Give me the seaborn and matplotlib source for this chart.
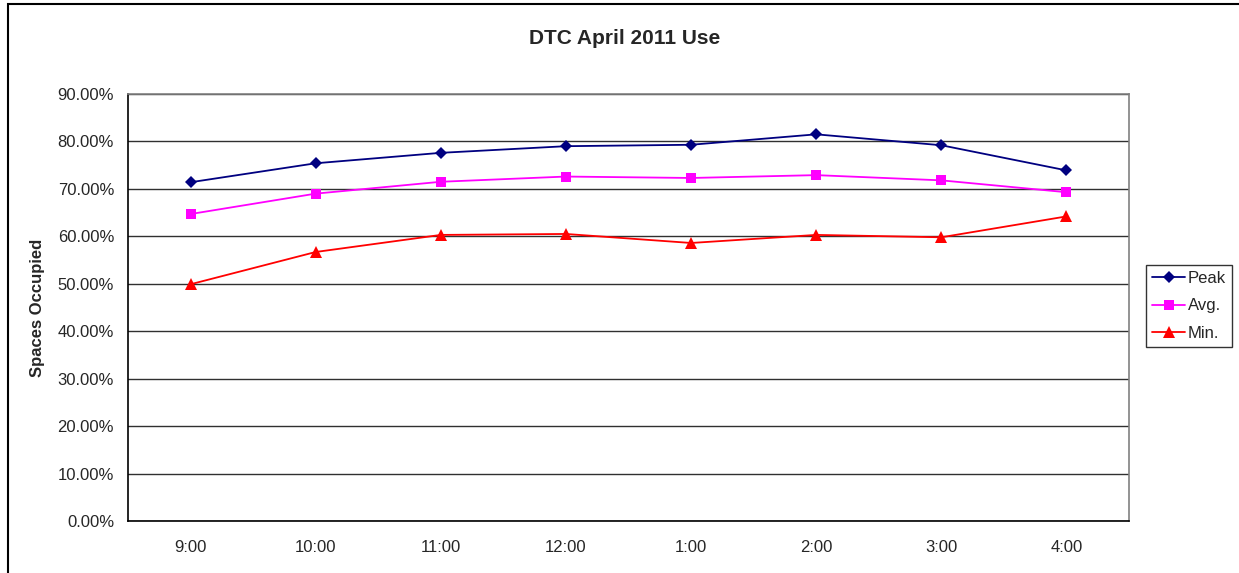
import matplotlib
matplotlib.use("Agg")
import matplotlib.pyplot as plt
from matplotlib.patches import Rectangle
from matplotlib.ticker import FixedLocator, FuncFormatter
import seaborn as sns
import pandas as pd

# data (percent of spaces occupied)
times = ["9:00", "10:00", "11:00", "12:00", "1:00", "2:00", "3:00", "4:00"]
peak = [71.4, 75.4, 77.6, 79.0, 79.3, 81.5, 79.2, 73.9]
avg = [64.7, 69.0, 71.5, 72.6, 72.3, 72.9, 71.8, 69.3]
low = [49.9, 56.7, 60.3, 60.5, 58.6, 60.3, 59.8, 64.2]
series_names = ["Peak", "Avg.", "Min."]

df = pd.DataFrame({
    "time": times * 3,
    "value": peak + avg + low,
    "series": [s for s in series_names for _ in times],
})

sns.set_style("white")
plt.rcParams["font.family"] = ["Liberation Sans", "DejaVu Sans"]

W, H = 1239, 573
fig = plt.figure(figsize=(W / 100, H / 100), dpi=100)
ax = fig.add_axes([128 / W, 1 - 521 / H, (1129 - 128) / W, (521 - 94) / H])

palette = {"Peak": "#000080", "Avg.": "#FF00FF", "Min.": "#FF0000"}
markers = {"Peak": "D", "Avg.": "s", "Min.": "^"}
sns.lineplot(data=df, x="time", y="value", hue="series", style="series",
             palette=palette, markers=markers, dashes=False, markersize=7,
             linewidth=1.3, markeredgewidth=0, ax=ax, sort=False)

# make diamonds a bit smaller like Excel
for line in ax.lines:
    if line.get_marker() == "D":
        line.set_markersize(6)
    elif line.get_marker() == "^":
        line.set_markersize(8)

ax.set_xlim(-0.5, len(times) - 0.5)
ax.set_ylim(0, 90)
ax.yaxis.set_major_locator(FixedLocator(range(0, 91, 10)))
ax.yaxis.set_major_formatter(FuncFormatter(lambda v, p: f"{v:.2f}%"))
ax.xaxis.set_minor_locator(FixedLocator([i - 0.5 for i in range(len(times) + 1)]))
ax.tick_params(axis="x", which="major", length=0, pad=14, labelsize=12)
ax.tick_params(axis="x", which="minor", length=5, width=1, color="black", direction="out")
ax.tick_params(axis="y", length=5, width=1, color="black", direction="out", pad=5, labelsize=12)
ax.grid(axis="y", color="#303030", linewidth=1)
ax.set_axisbelow(True)

for side in ["left", "bottom"]:
    ax.spines[side].set_color("black")
    ax.spines[side].set_linewidth(1.2)
for side in ["top", "right"]:
    ax.spines[side].set_color("#808080")
    ax.spines[side].set_linewidth(1.2)

ax.set_xlabel("")
ax.set_ylabel("Spaces Occupied", fontsize=12, fontweight="bold")
ax.yaxis.set_label_coords(-0.083, 0.5)

fig.text(625 / W, 1 - 38 / H, "DTC April 2011 Use", ha="center", va="center",
         fontsize=15, fontweight="bold")

handles, labels = ax.get_legend_handles_labels()
ax.legend(handles, labels, loc="upper left", bbox_to_anchor=(1146 / W, 1 - 265 / H),
          bbox_transform=fig.transFigure, frameon=True, fancybox=False,
          edgecolor="black", fontsize=12, handlelength=2.0, handletextpad=0.15,
          borderpad=0.35, borderaxespad=0, labelspacing=0.75)
ax.get_legend().get_frame().set_linewidth(1)

# outer chart border (right and bottom edges fall outside the picture)
fig.add_artist(Rectangle((8 / W, -0.1), 2, 1 - 4 / H + 0.1, transform=fig.transFigure,
                         fill=False, edgecolor="black", linewidth=1.5))

fig.savefig("out.png", dpi=100)
